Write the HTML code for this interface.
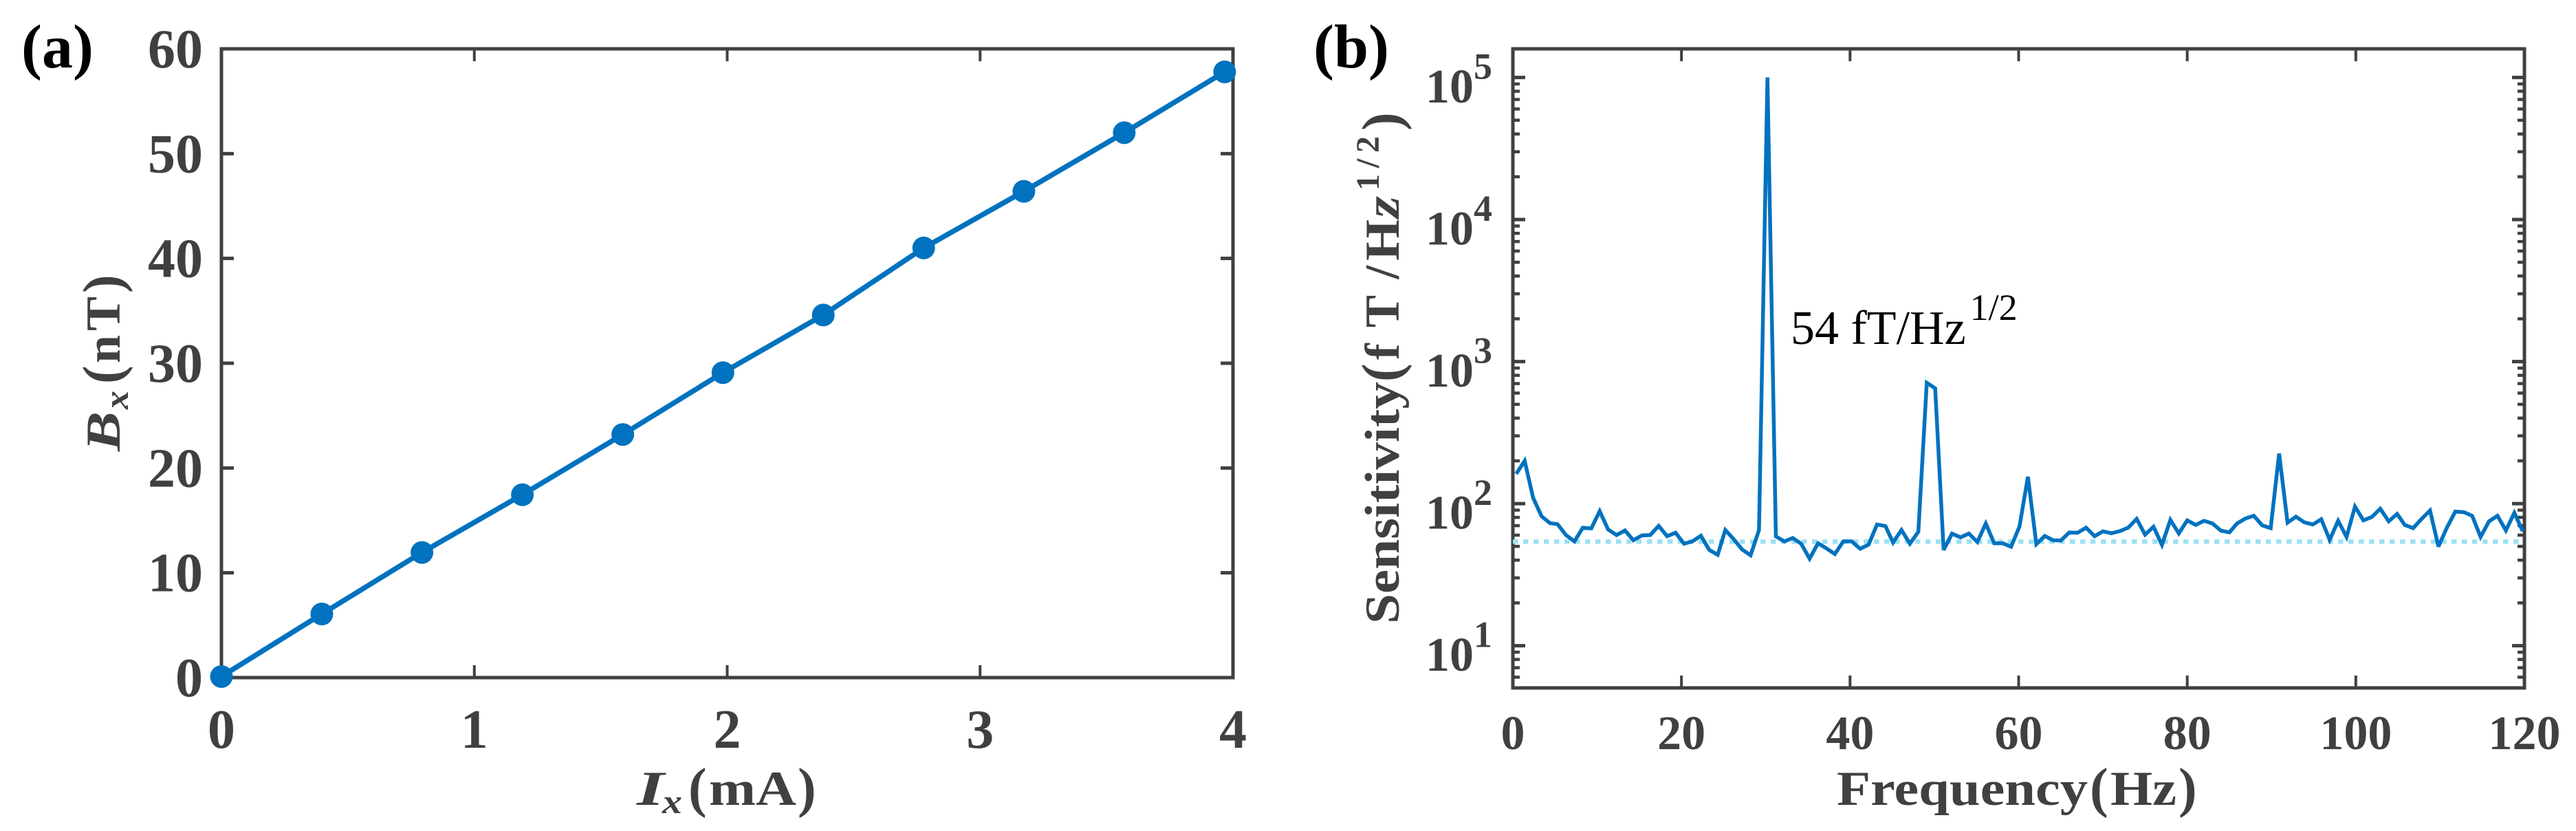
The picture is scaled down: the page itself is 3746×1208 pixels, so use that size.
<!DOCTYPE html>
<html lang="en">
<head>
<meta charset="utf-8">
<title>Magnetic field calibration and sensitivity spectrum</title>
<style>
html,body{margin:0;padding:0;background:#fff;width:3746px;height:1208px;overflow:hidden}
svg{display:block;position:absolute;left:0;top:0}
text{font-family:"Liberation Serif",serif}
.tick{font-weight:700;fill:#404040}
.label text{font-weight:700;fill:#404040;font-size:71px}
.label .paren{font-size:80px}
.label .sub{font-size:50px;font-style:italic}
.label .ital{font-style:italic}
</style>
</head>
<body>
<svg id="figure" xmlns="http://www.w3.org/2000/svg" width="3746" height="1208" viewBox="0 0 3746 1208">
  <text x="31" y="98" font-size="90" font-weight="700" fill="#000">(a)</text>
  <text x="1910" y="98" font-size="90" font-weight="700" fill="#000">(b)</text>

  <g class="label">
    <text class="ital" x="926" y="1170" textLength="40" lengthAdjust="spacingAndGlyphs">I</text>
    <text class="sub" x="963" y="1182" textLength="29" lengthAdjust="spacingAndGlyphs">x</text>
    <text class="paren" x="1001" y="1172">(</text>
    <text x="1031" y="1170" textLength="127" lengthAdjust="spacingAndGlyphs">mA</text>
    <text class="paren" x="1160" y="1172">)</text>
  </g>
  <g class="label" transform="translate(174,656) rotate(-90)">
    <text class="ital" x="0" y="0" textLength="58" lengthAdjust="spacingAndGlyphs">B</text>
    <text class="sub" x="61" y="12" textLength="27" lengthAdjust="spacingAndGlyphs">x</text>
    <text class="paren" x="98" y="2">(</text>
    <text x="128" y="0" textLength="41" lengthAdjust="spacingAndGlyphs">n</text>
    <text x="175" y="0" textLength="50" lengthAdjust="spacingAndGlyphs">T</text>
    <text class="paren" x="230" y="2">)</text>
  </g>

  <g class="label">
    <text x="2671" y="1170" textLength="365" lengthAdjust="spacingAndGlyphs">Frequency</text>
    <text class="paren" x="3039" y="1172">(</text>
    <text x="3069" y="1170" textLength="96" lengthAdjust="spacingAndGlyphs">Hz</text>
    <text class="paren" x="3168" y="1172">)</text>
  </g>
  <g class="label" transform="translate(2034,907) rotate(-90)">
    <text x="0" y="0" textLength="352" lengthAdjust="spacingAndGlyphs">Sensitivity</text>
    <text class="paren" x="352" y="2">(</text>
    <text x="384" y="0" textLength="137" lengthAdjust="spacing">fT/</text>
    <text x="528" y="0" textLength="60" lengthAdjust="spacingAndGlyphs">H</text>
    <text class="ital" x="590" y="0" textLength="32" lengthAdjust="spacingAndGlyphs">z</text>
    <text x="630" y="-29" style="font-size:48px" textLength="79" lengthAdjust="spacing">1/2</text>
    <text class="paren" x="717" y="2">)</text>
  </g>

  <text x="2604" y="500" font-size="70" fill="#000">54 fT/Hz<tspan font-size="54" dx="6" dy="-35">1/2</tspan></text>
  <g id="chart-a"></g>
  <g id="chart-b"></g>
</svg>
<script>
// Panel (a) data
var currentValues = [0, 0.397, 0.793, 1.19, 1.587, 1.983, 2.38, 2.777, 3.173, 3.57, 3.967];
var fieldValues = [0.1, 6.07, 11.94, 17.45, 23.2, 29.1, 34.6, 41, 46.4, 52, 57.8];
var aXTicks = [0, 1, 2, 3, 4];
var aYTicks = [0, 10, 20, 30, 40, 50, 60];

// Panel (b) data
var frequencies = [
0.4,1.4,2.4,3.4,4.4,5.3,6.3,7.3,8.3,9.3,
10.3,11.3,12.3,13.3,14.3,15.3,16.3,17.3,18.3,19.3,
20.3,21.3,22.3,23.3,24.3,25.2,26.2,27.2,28.2,29.2,
30.2,31.2,32.2,33.2,34.2,35.2,36.2,37.2,38.2,39.2,
40.2,41.2,42.2,43.2,44.2,45.1,46.1,47.1,48.1,49.1,
50.1,51.1,52.1,53.1,54.1,55.1,56.1,57.1,58.1,59.1,
60.1,61.1,62.1,63.1,64.1,65,66,67,68,69,
70,71,72,73,74,75,76,77,78,79,
80,81,82,83,84,85,85.9,86.9,87.9,88.9,
89.9,90.9,91.9,92.9,93.9,94.9,95.9,96.9,97.9,98.9,
99.9,100.9,101.9,102.9,103.9,104.9,105.8,106.8,107.8,108.8,
109.8,110.8,111.8,112.8,113.8,114.8,115.8,116.8,117.8,118.8,
119.8
];
var sensitivity = [
162,200,110,81.5,72.9,71.6,60.1,54.2,67.7,66.9,
88.5,65.7,60.1,64.7,55.2,59.7,60.1,69.7,59,62.4,
52.2,54.2,59.4,47.2,43.6,65.2,56.2,47.5,43.3,65.2,
100000,58.8,54.2,57.3,52.2,41,52.6,48.4,44.2,54.2,
54.2,48.1,51.4,71.3,69.5,53.2,65.2,52.2,63.3,709,
648,47.2,61.5,57.9,61.5,53.7,72.4,52.6,52.6,49.7,
69,154.5,51.8,59.2,55.2,55,62.6,62.4,67.7,59,
63.8,61.9,64,67.7,78,60.5,68.7,51.2,76.8,61.7,
76.2,70.8,75.7,72.4,64.5,62.8,72.4,78.5,82.1,70.3,
67.2,225,73.5,80.9,73.8,71.3,77.6,55.6,75.7,58.3,
95.3,76.2,80.5,92,75.1,84.6,70.8,67.2,78,89.5,
49.9,67.7,87.9,87.1,82.1,58.3,75.1,82.1,64.7,86.1,
64
];
var noiseFloor = [54];
var bXTicks = [0, 20, 40, 60, 80, 100, 120];
var bYDecades = [1, 2, 3, 4, 5];
var bMinorMultipliers = [2, 3, 4, 5, 6, 7, 8, 9];

var NS = 'http://www.w3.org/2000/svg';
var AXIS = '#404040', BLUE = '#0072bf', CYAN = '#9de0f4';

function mk(parent, tag, attrs, txt) {
  var e = document.createElementNS(NS, tag);
  for (var k in attrs) e.setAttribute(k, attrs[k]);
  if (txt !== undefined) e.textContent = txt;
  parent.appendChild(e);
  return e;
}

// Panel (a) axis functions
var A = {l: 322, r: 1793, t: 71, b: 985, xMax: 4, yMax: 60};
function ax(v) { return A.l + (v / A.xMax) * (A.r - A.l); }
function ay(v) { return A.b - (v / A.yMax) * (A.b - A.t); }

// Panel (b) axis functions
var B = {l: 2200, r: 3671, t: 71, b: 1000, xMax: 120, decadeBase: 938.6, decadePx: 206.5};
function bx(v) { return B.l + (v / B.xMax) * (B.r - B.l); }
function by(v) { return B.decadeBase - (Math.log10(v) - 1) * B.decadePx; }

function drawA() {
  var g = document.getElementById('chart-a');
  aXTicks.forEach(function (t) {
    var x = ax(t);
    if (t > 0 && t < A.xMax) {
      var bt = mk(g, 'line', {x1: x, x2: x, y1: A.b, y2: A.b - 18, stroke: AXIS, 'stroke-width': 4});
      
      
      var tt = mk(g, 'line', {x1: x, x2: x, y1: A.t, y2: A.t + 18, stroke: AXIS, 'stroke-width': 4});
      
      
    }
    var lab = mk(g, 'text', {x: x, y: 1087, 'text-anchor': 'middle', 'font-size': 80, 'class': 'tick'}, String(t));
    
    
  });
  aYTicks.forEach(function (t) {
    var y = ay(t);
    if (t > 0 && t < A.yMax) {
      var lt = mk(g, 'line', {x1: A.l, x2: A.l + 18, y1: y, y2: y, stroke: AXIS, 'stroke-width': 5});
      
      
      var rt = mk(g, 'line', {x1: A.r, x2: A.r - 18, y1: y, y2: y, stroke: AXIS, 'stroke-width': 5});
      
      
    }
    var lab = mk(g, 'text', {x: 295, y: y + 27, 'text-anchor': 'end', 'font-size': 80, 'class': 'tick'}, String(t));
    
    
  });
  var frame = mk(g, 'rect', {x: A.l, y: A.t, width: A.r - A.l, height: A.b - A.t, fill: 'none', stroke: AXIS, 'stroke-width': 5});
  
  

  var pts = currentValues.map(function (c, i) { return ax(c) + ',' + ay(fieldValues[i]); }).join(' ');
  var line = mk(g, 'polyline', {points: pts, fill: 'none', stroke: BLUE, 'stroke-width': 7.5, 'stroke-linejoin': 'round'});
  
  
  currentValues.forEach(function (c, i) {
    var p = mk(g, 'circle', {cx: ax(c), cy: ay(fieldValues[i]), r: 16.5, fill: BLUE});
    
    
  });
}

function drawB() {
  var g = document.getElementById('chart-b');
  bXTicks.forEach(function (t) {
    var x = bx(t);
    if (t > 0 && t < B.xMax) {
      var bt = mk(g, 'line', {x1: x, x2: x, y1: B.b, y2: B.b - 18, stroke: AXIS, 'stroke-width': 4});
      
      
      var tt = mk(g, 'line', {x1: x, x2: x, y1: B.t, y2: B.t + 18, stroke: AXIS, 'stroke-width': 4});
      
      
    }
    var lab = mk(g, 'text', {x: x, y: 1089, 'text-anchor': 'middle', 'font-size': 70, 'class': 'tick'}, String(t));
    
    
  });
  bYDecades.forEach(function (d) {
    var v = Math.pow(10, d), y = by(v);
    var lt = mk(g, 'line', {x1: B.l, x2: B.l + 18, y1: y, y2: y, stroke: AXIS, 'stroke-width': 5});
    
    
    var rt = mk(g, 'line', {x1: B.r, x2: B.r - 18, y1: y, y2: y, stroke: AXIS, 'stroke-width': 5});
    
    
    var lab = mk(g, 'text', {x: 2073, y: y + 36.5, 'font-size': 70, 'class': 'tick'});
    
    
    mk(lab, 'tspan', {}, '10');
    mk(lab, 'tspan', {'font-size': 54, dy: -34.5}, String(d));
  });
  var decadesForMinor = [0].concat(bYDecades);
  decadesForMinor.forEach(function (d) {
    bMinorMultipliers.forEach(function (m) {
      var v = m * Math.pow(10, d), y = by(v);
      if (y < B.t + 4 || y > B.b - 4) return;
      var lt = mk(g, 'line', {x1: B.l, x2: B.l + 10, y1: y, y2: y, stroke: AXIS, 'stroke-width': 4.5});
      
      
      var rt = mk(g, 'line', {x1: B.r, x2: B.r - 10, y1: y, y2: y, stroke: AXIS, 'stroke-width': 4.5});
      
      
    });
  });
  var frame = mk(g, 'rect', {x: B.l, y: B.t, width: B.r - B.l, height: B.b - B.t, fill: 'none', stroke: AXIS, 'stroke-width': 5});
  
  

  var floor = mk(g, 'line', {x1: bx(0), x2: bx(119.6), y1: by(noiseFloor[0]), y2: by(noiseFloor[0]), stroke: CYAN, 'stroke-width': 6.5, 'stroke-dasharray': '7.5 7.5'});
  
  

  var pts = frequencies.map(function (f, i) { return bx(f) + ',' + by(sensitivity[i]); }).join(' ');
  var line = mk(g, 'polyline', {points: pts, fill: 'none', stroke: BLUE, 'stroke-width': 5.5, 'stroke-linejoin': 'miter', 'stroke-miterlimit': 3});
  
  
}

drawA();
drawB();
</script>
</body>
</html>
